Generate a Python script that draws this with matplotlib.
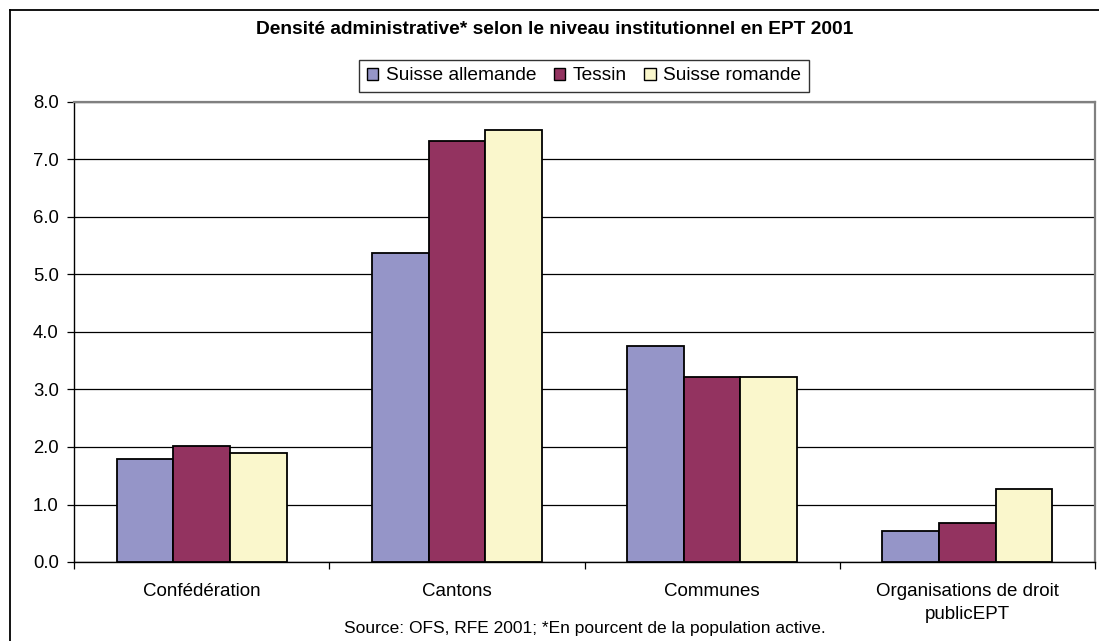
import matplotlib
matplotlib.use('Agg')
import matplotlib.pyplot as plt
from matplotlib.lines import Line2D
import numpy as np

plt.rcParams['font.family'] = ['Liberation Sans', 'DejaVu Sans']

# Données : densité administrative (% de la population active), EPT 2001
categories = ['Confédération', 'Cantons', 'Communes', 'Organisations de droit\npublicEPT']
series = ['Suisse allemande', 'Tessin', 'Suisse romande']
suisse_allemande = [1.80, 5.38, 3.76, 0.54]
tessin = [2.02, 7.33, 3.22, 0.68]
suisse_romande = [1.89, 7.51, 3.22, 1.27]
couleurs = ['#9595C8', '#933360', '#FAF7CC']
yticks = [0.0, 1.0, 2.0, 3.0, 4.0, 5.0, 6.0, 7.0, 8.0]

W, H = 1099, 641
fig = plt.figure(figsize=(W / 100, H / 100), dpi=100)
ax = fig.add_axes([74 / W, 1 - 562 / H, (1095 - 74) / W, (562 - 102) / H])

x = np.arange(len(categories))
largeur = 1 / 4.5
valeurs = [suisse_allemande, tessin, suisse_romande]
for i, (nom, vals, c) in enumerate(zip(series, valeurs, couleurs)):
    ax.bar(x + (i - 1) * largeur, vals, largeur, color=c, edgecolor='black',
           linewidth=1.3, label=nom, zorder=3)

ax.set_xlim(-0.5, len(categories) - 0.5)
ax.set_ylim(0, 8)
ax.set_yticks(yticks)
ax.set_yticklabels([f"{v:.1f}" for v in yticks])
ax.yaxis.grid(True, color='black', linewidth=0.9)
ax.set_axisbelow(True)

# graduations entre les catégories
ax.set_xticks(x)
ax.set_xticklabels(categories, fontsize=13.5, linespacing=1.45)
ax.set_xticks(np.arange(-0.5, len(categories)), minor=True)
ax.tick_params(axis='x', which='major', length=0, pad=15)
ax.tick_params(axis='x', which='minor', length=5, width=0.9, direction='out')
ax.tick_params(axis='y', length=5, width=0.9, direction='out', pad=6, labelsize=13.3)

for s in ['top', 'right']:
    ax.spines[s].set_color('#808080')
    ax.spines[s].set_linewidth(1.6)
for s in ['left', 'bottom']:
    ax.spines[s].set_color('black')
    ax.spines[s].set_linewidth(1.0)

leg = fig.legend(loc='center', bbox_to_anchor=(584 / W, 1 - 76 / H), ncol=3,
                 fontsize=13.8, frameon=True, fancybox=False, edgecolor='black',
                 handlelength=0.6, handleheight=0.6, handletextpad=0.4,
                 columnspacing=0.9, borderpad=0.4, borderaxespad=0)
leg.get_frame().set_linewidth(1.0)
for p in leg.get_patches():
    p.set_linewidth(1.0)

fig.text(555 / W, 1 - 30 / H, "Densité administrative* selon le niveau institutionnel en EPT 2001",
         ha='center', va='center', fontsize=13.8, fontweight='bold')
fig.text(585 / W, 1 - 628 / H, "Source: OFS, RFE 2001; *En pourcent de la population active.",
         ha='center', va='center', fontsize=12.5)

# cadre du graphique
fig.add_artist(Line2D([10 / W, 10 / W], [0, 1 - 10 / H], transform=fig.transFigure,
                      color='black', linewidth=1.3))
fig.add_artist(Line2D([10 / W, 1], [1 - 10 / H, 1 - 10 / H], transform=fig.transFigure,
                      color='black', linewidth=1.3))

fig.savefig('out.png', dpi=100)
